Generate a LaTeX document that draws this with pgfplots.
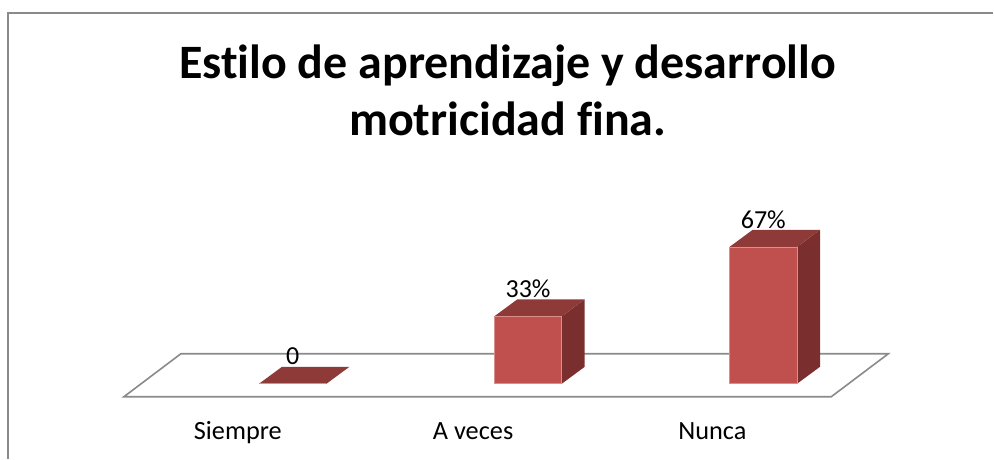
\documentclass[border=0pt]{standalone}
\usepackage{fontspec}
\setmainfont{Carlito}[Ligatures=NoCommon]
\usepackage{pgfplots}
\pgfplotsset{compat=1.18}
\definecolor{framegray}{HTML}{8A8A8A}
\definecolor{barfront}{HTML}{C0504D}
\definecolor{bartop}{HTML}{8E3A38}
\definecolor{barside}{HTML}{7A2F2E}
\definecolor{baredge}{HTML}{D98F8D}
\begin{document}
\begin{tikzpicture}
\begin{axis}[
  scale only axis, width=994pt, height=459pt,
  xmin=-1.2442, xmax=2.9766, ymin=-36.67, ymax=187.78,
  axis line style={draw=none},
  ytick=\empty,
  xtick={0,1,2},
  xticklabels={Siempre,A veces,\hspace{8pt}Nunca},
  major tick length=0pt,
  xticklabel style={font=\fontsize{26.3}{30}\selectfont, anchor=base, xshift=-55pt, yshift=19pt},
  clip=false,
]
% frame
\addplot[framegray, line width=1.8pt] coordinates {(-1.2102,-36.67) (-1.2102,181.42) (2.9766,181.42)};
% floor
\addplot[framegray, line width=1.6pt] coordinates {(-0.7176,-6.36) (2.2887,-6.36) (2.531,14.67) (-0.4756,14.67)} -- cycle;
% side faces
\addplot[fill=barside, draw=none] coordinates {(1.1433,0) (1.2410,8.31) (1.2410,41.31) (1.1433,33)} -- cycle;
\addplot[fill=barside, draw=none] coordinates {(2.1433,0) (2.2410,8.31) (2.2410,75.31) (2.1433,67)} -- cycle;
% top faces
\addplot[fill=bartop, draw=none] coordinates {(-0.1433,0) (0.1433,0) (0.2410,8.31) (-0.0456,8.31)} -- cycle;
\addplot[fill=bartop, draw=none] coordinates {(0.8567,33) (1.1433,33) (1.2410,41.31) (0.9544,41.31)} -- cycle;
\addplot[fill=bartop, draw=none] coordinates {(1.8567,67) (2.1433,67) (2.2410,75.31) (1.9544,75.31)} -- cycle;
% front faces
\addplot[ybar, bar width=67.5pt, fill=barfront, draw=baredge, line width=0.6pt] coordinates {(0,0) (1,33) (2,67)};
% data labels
\addplot[draw=none, point meta=explicit symbolic, nodes near coords,
  nodes near coords style={anchor=center, yshift=27.5pt, font=\fontsize{26}{30}\selectfont, text=black}]
  coordinates {(0,0)[0] (1,33)[33\%] (2,67)[67\%]};
% title
\node[align=center, font=\bfseries\fontsize{48}{57}\selectfont, anchor=center] at (axis cs:0.9134,143.5) {Estilo de aprendizaje y desarrollo\\motricidad fina.};
\end{axis}
\end{tikzpicture}
\end{document}
